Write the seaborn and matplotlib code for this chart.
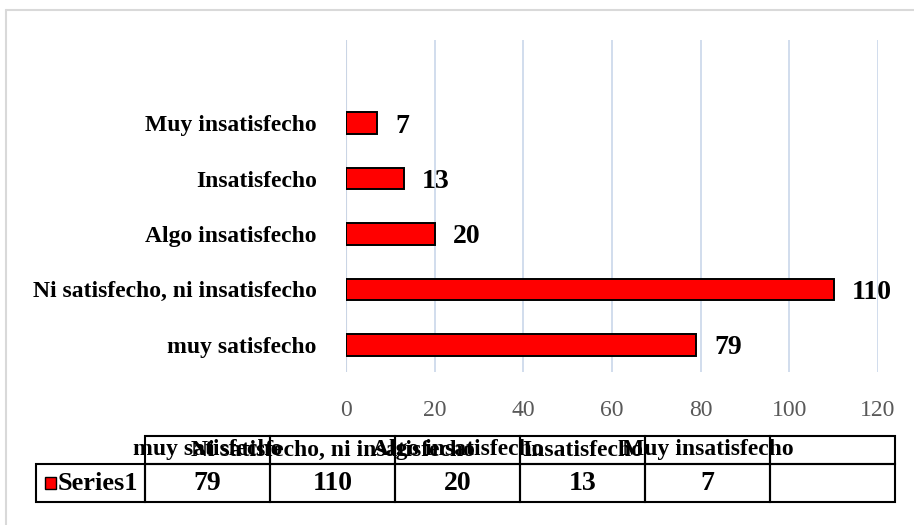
import matplotlib
matplotlib.use("Agg")
import matplotlib.pyplot as plt
import seaborn as sns
import pandas as pd
from matplotlib.patches import Rectangle
from matplotlib.lines import Line2D

# data, in the order of the data table
categories = ["muy satisfecho", "Ni satisfecho, ni insatisfecho",
              "Algo insatisfecho", "Insatisfecho", "Muy insatisfecho"]
values = [79, 110, 20, 13, 7]
series_name = "Series1"
x_ticks = [0, 20, 40, 60, 80, 100, 120]

sns.set_theme(style="white")
plt.rcParams['font.family'] = ['Liberation Serif', 'DejaVu Serif']
plt.rcParams['text.color'] = "black"
plt.rcParams['ytick.color'] = "black"

df = pd.DataFrame({"cat": categories, "val": values})
bar_order = categories[::-1]

fig = plt.figure(figsize=(9.14, 5.25), dpi=100)
W, H = 914, 525

# light frame round the chart
fig.add_artist(Line2D([6 / W, 6 / W], [0, 1 - 10 / H], transform=fig.transFigure,
                      color="#d9d9d9", lw=1.5))
fig.add_artist(Line2D([6 / W, 1], [1 - 10 / H, 1 - 10 / H], transform=fig.transFigure,
                      color="#d9d9d9", lw=1.5))

ax = fig.add_axes([346 / W, 1 - 372 / H, (878 - 346) / W, (372 - 40) / H])
sns.barplot(data=df, x="val", y="cat", order=bar_order, orient="h", ax=ax,
            color="#ff0000", saturation=1, width=0.39,
            edgecolor="black", linewidth=1.4)
ax.set_xlim(0, 120)
ax.set_ylim(4.49, -1.5)
ax.set_xticks(x_ticks)
ax.grid(axis="x", color="#c9d7ea", lw=1.2)
ax.set_axisbelow(True)
ax.axvline(0, color="#d0d0d0", lw=1.5, zorder=0.5)
for s in ax.spines.values():
    s.set_visible(False)
ax.set_xlabel("")
ax.set_ylabel("")
ax.tick_params(axis="x", length=0, pad=20, labelsize=17, labelcolor="#595959")
ax.tick_params(axis="y", length=0, pad=21, labelcolor="black")
for lab in ax.get_yticklabels():
    lab.set_fontweight("bold")
    lab.set_fontsize(17)
for c in ax.containers:
    txts = ax.bar_label(c, padding=13, fontsize=20, fontweight="bold", color="black")
    for t in txts:
        t.set_va("center_baseline")

# data table below the chart
tx = fig.add_axes([36 / W, 1 - 502 / H, (895 - 36) / W, (502 - 436) / H])
n = len(categories) + 1
lab_w = 109 / 125
tx.set_xlim(-lab_w, n)
tx.set_ylim(0, 1)
tx.axis("off")
hdr = 38 / 66
for i in range(n):
    tx.add_patch(Rectangle((i, hdr), 1, 1 - hdr, fill=False, ec="black", lw=1.5, clip_on=False))
    tx.add_patch(Rectangle((i, 0), 1, hdr, fill=False, ec="black", lw=1.5, clip_on=False))
tx.add_patch(Rectangle((-lab_w, 0), lab_w, hdr, fill=False, ec="black", lw=1.5, clip_on=False))
for i, (cat, v) in enumerate(zip(categories, values)):
    tx.text(i + 0.5, hdr + (1 - hdr) / 2, cat, ha="center", va="center",
            fontsize=17, fontweight="bold", color="black")
    tx.text(i + 0.5, hdr / 2, str(v), ha="center", va="center",
            fontsize=20, fontweight="bold", color="black")
tx.add_patch(Rectangle((-lab_w + 0.075, hdr / 2 - 0.09), 0.085, 0.18,
                       fc="#ff0000", ec="black", lw=1, clip_on=False))
tx.text(-lab_w + 0.175, hdr / 2, series_name, ha="left", va="center",
        fontsize=19, fontweight="bold", color="black")

fig.savefig("out.png", dpi=100)
